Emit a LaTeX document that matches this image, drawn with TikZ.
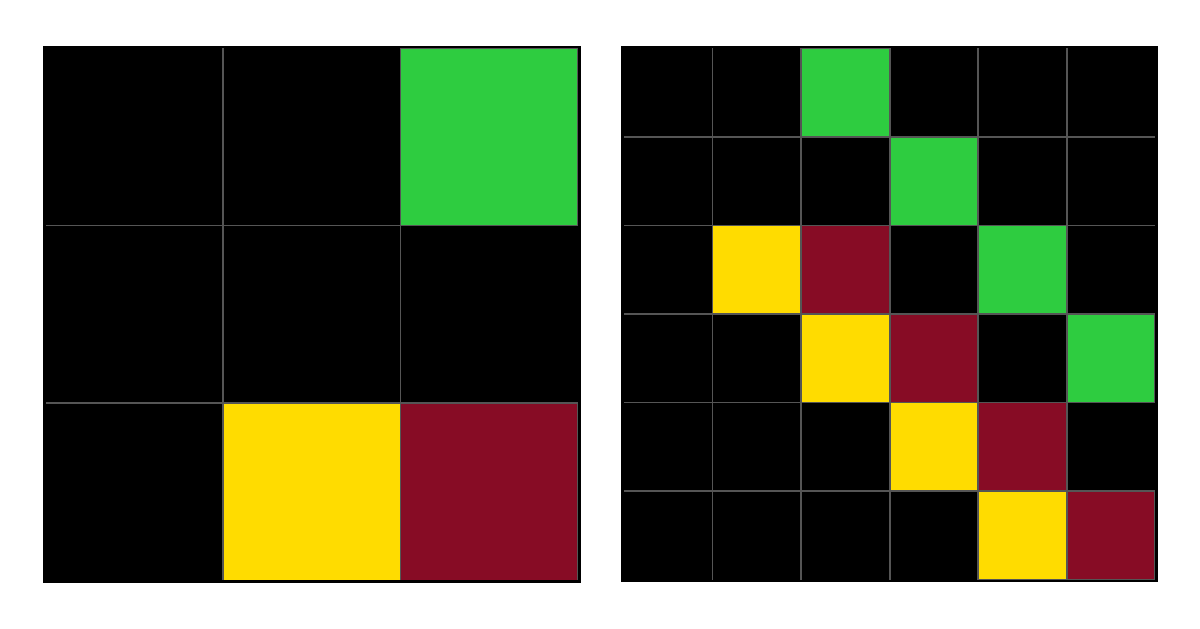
\documentclass[tikz,border=0pt]{standalone}
\usetikzlibrary{calc}
\definecolor{arcgreen}{HTML}{2ECC40}
\definecolor{arcyellow}{HTML}{FFDC00}
\definecolor{arcmaroon}{HTML}{870C25}
\definecolor{gridgray}{HTML}{555555}
\tikzset{
  cellbg/.style={fill=black},
  cellB/.style={},
  cellG/.style={fill=arcgreen, draw=gridgray, line width=1.8pt},
  cellY/.style={fill=arcyellow, draw=gridgray, line width=1.8pt},
  cellR/.style={fill=arcmaroon, draw=gridgray, line width=1.8pt},
  gridline/.style={draw=gridgray, line width=1.8pt},
  frame/.style={draw=black, line width=2.7pt}
}
\begin{document}
\begin{tikzpicture}[x=1pt,y=-1pt]
\useasboundingbox (0,0) rectangle (1200,629);
% ---------- left grid 3x3 ----------
\def\lx{45.6}\def\ly{48.1}\def\lc{177.45}
\path[cellbg] (\lx,\ly) rectangle ++({3*\lc},{3*\lc});
\foreach \i in {1,2}{
  \draw[gridline] ({\lx+\i*\lc},\ly) -- ++(0,{3*\lc});
  \draw[gridline] (\lx,{\ly+\i*\lc}) -- ++({3*\lc},0);
}
\foreach \row/\cols in {0/{B,B,G},1/{B,B,B},2/{B,Y,R}}{
  \foreach \c [count=\j from 0] in \cols {
    \path[cell\c] ({\lx+\j*\lc},{\ly+\row*\lc}) rectangle ++(\lc,\lc);
  }
}
\draw[frame] ({\lx-1.25},{\ly-1.25}) rectangle ({\lx+3*\lc+1.25},{\ly+3*\lc+1.25});
% ---------- right grid 6x6 ----------
\def\rx{624}\def\ry{48.3}\def\rc{88.55}
\path[cellbg] (\rx,\ry) rectangle ++({6*\rc},{6*\rc});
\foreach \i in {1,...,5}{
  \draw[gridline] ({\rx+\i*\rc},\ry) -- ++(0,{6*\rc});
  \draw[gridline] (\rx,{\ry+\i*\rc}) -- ++({6*\rc},0);
}
\foreach \row/\cols in {0/{B,B,G,B,B,B},1/{B,B,B,G,B,B},2/{B,Y,R,B,G,B},3/{B,B,Y,R,B,G},4/{B,B,B,Y,R,B},5/{B,B,B,B,Y,R}}{
  \foreach \c [count=\j from 0] in \cols {
    \path[cell\c] ({\rx+\j*\rc},{\ry+\row*\rc}) rectangle ++(\rc,\rc);
  }
}
\draw[frame] ({\rx-1.25},{\ry-1.25}) rectangle ({\rx+6*\rc+1.25},{\ry+6*\rc+1.25});
\end{tikzpicture}
\end{document}
